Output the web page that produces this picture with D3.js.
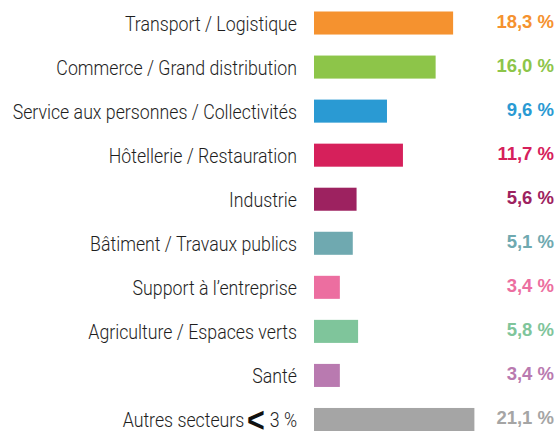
<!DOCTYPE html>
<html>
<head>
<meta charset="utf-8">
<script src="https://cdn.jsdelivr.net/npm/d3@7"></script>
<style>
  html, body { margin: 0; padding: 0; background: #ffffff; }
  svg { display: block; }
</style>
</head>
<body>
<svg id="chart" width="558" height="433"></svg>
<script>
// ---- data ----
const categories = [
  "Transport / Logistique",
  "Commerce / Grand distribution",
  "Service aux personnes / Collectivités",
  "Hôtellerie / Restauration",
  "Industrie",
  "Bâtiment / Travaux publics",
  "Support à l’entreprise",
  "Agriculture / Espaces verts",
  "Santé",
  "Autres secteurs"
];
const values = [18.3, 16.0, 9.6, 11.7, 5.6, 5.1, 3.4, 5.8, 3.4, 21.1];
const valueLabels = ["18,3 %", "16,0 %", "9,6 %", "11,7 %", "5,6 %", "5,1 %", "3,4 %", "5,8 %", "3,4 %", "21,1 %"];
const colors = ["#F5922F", "#8DC549", "#2A9AD3", "#D6205B", "#9D2260", "#6FA9B0", "#EC6EA0", "#7FC59B", "#B97AB0", "#A5A5A5"];
const othersSuffix = { symbol: "<", rest: "3 %" };

// ---- layout ----
const svg = d3.select("#chart");
const barX0 = 314, labelRight = 297, valueRight = 554;

const x = d3.scaleLinear().domain([0, 21.1]).range([barX0, barX0 + 160.4]);
const y = d3.scaleBand().domain(categories).range([11.5, 431]).paddingInner(0.477).paddingOuter(0);

const rows = categories.map((c, i) => ({ cat: c, v: values[i], lbl: valueLabels[i], col: colors[i], i }));

// bars
svg.append("g").selectAll("rect").data(rows).join("rect")
  .attr("x", x(0))
  .attr("y", d => y(d.cat))
  .attr("width", d => x(d.v) - x(0))
  .attr("height", y.bandwidth())
  .attr("fill", d => d.col);

// value labels
svg.append("g").selectAll("text").data(rows).join("text")
  .attr("x", valueRight)
  .attr("y", d => y(d.cat) + y.bandwidth() / 2 + 4.8)
  .attr("text-anchor", "end")
  .attr("font-family", "'Liberation Sans', Arial, sans-serif")
  .attr("font-weight", 700)
  .attr("font-size", 18.5)
  .attr("fill", d => d.col)
  .text(d => d.lbl);

// category labels (condensed look)
const sx = 0.845;
const lg = svg.append("g").selectAll("g").data(rows).join("g")
  .attr("transform", d => `translate(${labelRight},${y(d.cat) + y.bandwidth() / 2 + 8}) scale(${sx},1)`);

const lt = lg.append("text")
  .attr("text-anchor", "end")
  .attr("font-family", "Roboto, 'Liberation Sans', sans-serif")
  .attr("font-weight", 300)
  .attr("font-size", 21)
  .attr("fill", "#1e1e1e");

lt.filter(d => d.i !== categories.length - 1).text(d => d.cat);

const last = lt.filter(d => d.i === categories.length - 1);
last.append("tspan").text(d => d.cat);
last.append("tspan")
  .attr("dx", 3)
  .attr("dy", 5)
  .attr("font-family", "'Liberation Sans', Arial, sans-serif")
  .attr("font-weight", 700)
  .attr("font-size", 36)
  .attr("fill", "#111111")
  .text(othersSuffix.symbol);
last.append("tspan")
  .attr("dx", 6)
  .attr("dy", -5)
  .text(othersSuffix.rest);
</script>
</body>
</html>
